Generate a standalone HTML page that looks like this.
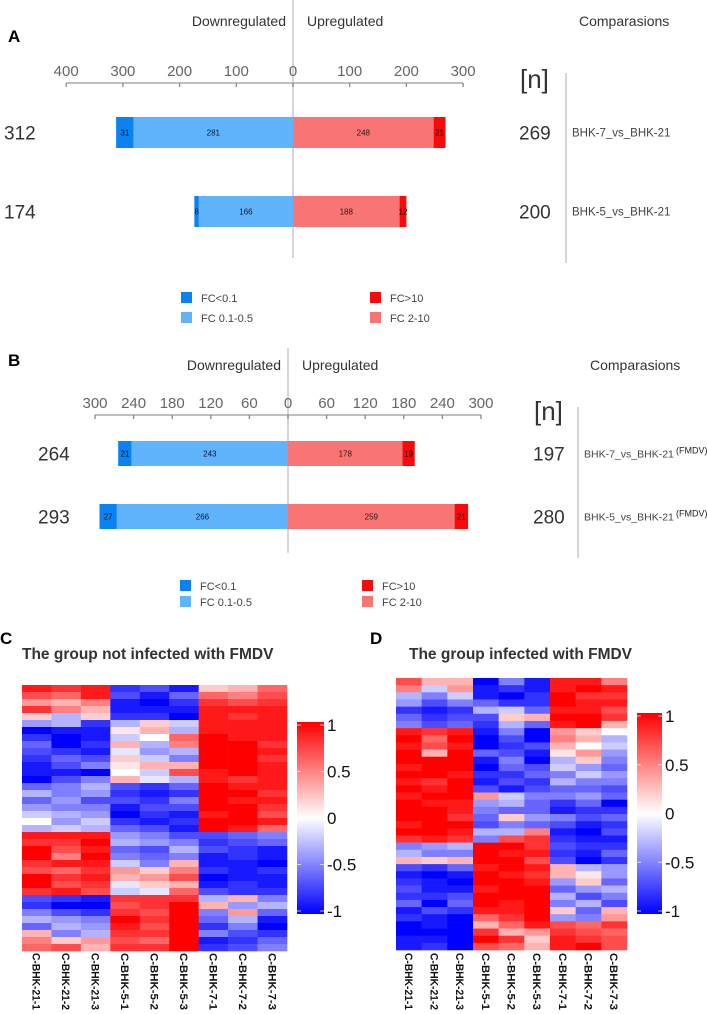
<!DOCTYPE html>
<html><head><meta charset="utf-8"><style>
html,body{margin:0;padding:0;background:#fff;}
svg{display:block;font-family:"Liberation Sans",sans-serif;}
</style></head><body>
<svg id="fig" width="707" height="1014" viewBox="0 0 707 1014" xmlns="http://www.w3.org/2000/svg">
<rect width="707" height="1014" fill="#fff"/>
<g id="panelA"></g>
<g id="panelB"></g>
<g id="panelC"></g>
<g id="panelD"></g>
</svg>
<script>
// ---- Panel A data ----
const aComparisons = ["BHK-7_vs_BHK-21","BHK-5_vs_BHK-21"];
const aDownStrong = [31, 8];
const aDownWeak = [281, 166];
const aUpWeak = [248, 188];
const aUpStrong = [21, 12];
const aTicks = [-400,-300,-200,-100,0,100,200,300];
// ---- Panel B data ----
const bComparisons = ["BHK-7_vs_BHK-21","BHK-5_vs_BHK-21"];
const bDownStrong = [21, 27];
const bDownWeak = [243, 266];
const bUpWeak = [178, 259];
const bUpStrong = [19, 21];
const bTicks = [-300,-240,-180,-120,-60,0,60,120,180,240,300];
// ---- Heatmap data ----
const samples = ["C-BHK-21-1","C-BHK-21-2","C-BHK-21-3","C-BHK-5-1","C-BHK-5-2","C-BHK-5-3","C-BHK-7-1","C-BHK-7-2","C-BHK-7-3"];
const cbTicks = [1,0.5,0,-0.5,-1];
const heatC = [
[0.9,0.8,0.9,-0.8,-0.7,-0.9,0.2,0.3,0.6],
[0.7,0.6,0.9,-0.7,-0.9,-0.6,0.6,0.5,0.7],
[0.4,0.3,0.5,-0.9,-1,-0.8,0.8,0.7,0.8],
[0.8,0.5,0.3,-0.9,-0.9,-0.9,0.9,0.9,0.9],
[0.2,-0.3,0.2,-0.8,-0.8,-1,0.9,0.8,0.9],
[-0.4,-0.3,-0.8,-0.3,0.2,-0.2,0.9,0.9,0.9],
[-1,-0.9,-0.9,0.1,0.3,-0.3,0.9,0.9,0.9],
[-0.8,-1,-0.9,-0.2,0.0,0.6,1,0.9,0.9],
[-0.6,-1,-0.8,0.3,-0.3,0.5,1,1,0.8],
[-0.7,-0.8,-0.9,-0.1,-0.4,-0.3,1,1,0.9],
[-0.8,-0.6,-0.7,0.2,-0.2,-0.5,1,1,0.8],
[-0.9,-0.7,-0.5,0.1,0.3,0.3,1,1,0.9],
[-0.9,-0.9,-1,0.0,-0.2,0.7,0.9,1,0.9],
[-1,-0.7,-0.5,0.3,-0.1,-0.3,0.9,0.8,0.9],
[-0.6,-0.5,-0.3,-0.7,-0.8,-0.6,1,0.9,0.9],
[-0.3,-0.5,-0.4,-0.8,-0.9,-0.8,1,1,0.8],
[-0.6,-0.4,-0.7,-0.7,-0.8,-0.5,1,0.9,0.9],
[-0.4,-0.5,-0.5,-0.9,-0.7,-0.7,1,1,0.8],
[-0.2,-0.3,-0.4,-1,-0.8,-0.9,0.9,1,0.7],
[0.0,-0.4,-0.2,-0.8,-0.9,-0.8,1,1,0.9],
[-0.3,-0.2,-0.3,-0.6,-0.7,-0.9,1,0.9,0.6],
[0.9,0.9,0.9,-0.4,-0.5,-0.7,-0.7,-0.6,-0.5],
[0.8,0.8,1,-0.3,-0.4,-0.5,-0.8,-0.7,-0.6],
[1,0.7,0.9,-0.6,-0.7,-0.3,-0.7,-0.8,-0.9],
[1,0.5,1,-0.5,-0.6,-0.5,-0.9,-0.8,-0.9],
[0.8,0.9,0.9,-0.2,-0.5,0.3,-0.9,-0.9,-1],
[0.7,0.6,0.8,0.4,0.2,0.5,-0.8,-0.9,-0.8],
[1,0.8,0.9,0.3,0.4,0.7,-1,-0.9,-0.9],
[1,0.7,0.8,-0.1,0.2,0.3,-0.9,-0.8,-0.9],
[0.8,0.9,0.7,-0.2,-0.1,0.6,-0.7,-0.8,-0.8],
[-0.7,-0.8,-0.9,0.8,0.8,0.8,-0.3,0.3,-0.5],
[-0.8,-1,-1,0.7,0.8,1,0.3,-0.4,-0.3],
[-0.5,-0.7,-0.8,0.8,0.7,1,-0.5,0.4,-0.6],
[-0.3,-0.4,-0.5,1,0.8,1,-0.6,-0.3,-0.9],
[-0.6,-0.3,-0.4,0.9,0.7,1,-0.8,-0.5,-1],
[0.3,-0.5,-0.3,0.8,0.8,1,-0.5,-0.7,-0.8],
[0.5,0.2,0.4,0.7,0.6,1,-0.9,-0.8,-0.6],
[0.6,0.7,0.3,0.8,0.8,1,-0.8,-0.7,-0.5]
];
const heatD = [
[0.7,0.3,0.3,-1,-0.5,-0.9,0.9,0.9,0.5],
[0.5,-0.2,0.4,-0.9,-0.8,-0.9,0.9,1,0.9],
[-0.3,-0.5,-0.2,-0.9,-1,-0.8,1,0.8,0.8],
[-0.4,-0.7,-0.5,-0.6,-0.8,-0.8,1,0.9,0.9],
[-0.8,-0.9,-0.8,-0.3,-0.2,-0.6,0.9,0.9,0.7],
[-0.6,-0.8,-0.7,-0.7,0.2,0.3,1,1,0.8],
[-0.5,-0.7,-0.6,-0.8,-0.3,-0.6,0.9,1,0.3],
[0.9,0.8,0.9,-0.9,-0.5,-1,0.4,0.2,0.0],
[1,0.6,1,-1,-0.7,-1,0.5,0.3,-0.3],
[0.9,0.7,0.9,-1,-0.8,-0.7,0.3,0.0,-0.2],
[1,0.3,1,-0.6,-0.7,-0.9,0.1,0.4,-0.4],
[1,1,1,-0.9,-0.5,-1,-0.3,0.2,-0.5],
[0.9,1,1,-1,-0.6,-0.7,-0.2,-0.4,-0.6],
[1,1,0.9,-0.8,-0.8,-0.6,-0.5,-0.2,-0.4],
[0.9,0.8,1,-0.9,-0.7,-0.8,-0.3,-0.5,-0.5],
[1,0.9,1,-0.7,-0.9,-0.7,-0.6,-0.6,-0.7],
[0.9,1,1,0.4,-0.2,-0.5,-0.5,-0.4,-0.6],
[1,0.9,0.9,-0.4,-0.3,-0.6,-0.8,-0.6,-1],
[1,1,0.9,-0.5,-0.6,-0.6,-0.9,-0.8,-0.8],
[1,1,0.8,-0.6,0.2,-0.4,-0.5,-0.7,-0.6],
[0.9,1,1,-0.7,-0.5,-0.6,-0.7,-0.9,-0.8],
[1,1,0.9,-0.3,-0.3,0.5,-0.9,-1,-0.7],
[0.8,0.9,0.8,-0.5,0.7,0.8,-0.8,-0.9,-0.9],
[-0.5,-0.4,-0.3,1,1,0.8,-0.7,-0.8,-0.8],
[-0.3,-0.5,-0.5,1,0.9,0.9,-0.8,-0.9,-0.6],
[0.3,0.2,0.3,1,1,0.7,-0.7,-1,-0.8],
[-0.7,-0.8,-0.6,0.9,1,0.9,0.3,-0.3,-0.4],
[-0.9,-1,-0.9,1,0.9,0.8,0.3,0.1,-0.4],
[-0.8,-0.9,-1,1,1,0.9,-0.4,0.2,-0.6],
[-0.7,-0.9,-0.9,0.9,1,1,-0.6,-0.4,-0.3],
[-0.8,-0.8,-0.7,1,1,1,-0.3,-0.7,-0.5],
[-0.6,-1,-0.6,1,0.9,1,-0.5,-0.3,-0.7],
[-0.9,-0.7,-0.8,0.9,0.9,1,0.2,-0.6,0.3],
[-0.8,-0.9,-1,0.6,0.8,1,-0.4,-0.5,0.4],
[-1,-0.9,-1,0.3,0.6,0.9,0.7,0.6,0.8],
[-1,-1,-1,0.8,0.3,0.4,0.8,0.7,0.6],
[-0.9,-0.9,-1,1,0.8,0.2,0.9,0.8,0.7],
[-0.9,-0.8,-1,0.7,0.6,0.3,0.9,1,0.7]
];

const NS = "http://www.w3.org/2000/svg";
const COL = {ds:"#0b82f2", dw:"#5fb4fc", uw:"#f97575", us:"#f80a0a"};
function mk(parent, tag, attrs, text){
  const e = document.createElementNS(NS, tag);
  for (const k in attrs) e.setAttribute(k, attrs[k]);
  if (text !== undefined) e.textContent = text;
  parent.appendChild(e);
  return e;
}

function barPanel(g, cfg){
  const sx = v => cfg.x0 + v*cfg.k;
  let t = mk(g,"text",{x:cfg.x0-7,y:cfg.hy,"font-size":14,"text-anchor":"end",fill:"#333"},"Downregulated");
  
  
  t = mk(g,"text",{x:cfg.x0+14,y:cfg.hy,"font-size":14,fill:"#333"},"Upregulated");
  
  
  t = mk(g,"text",{x:cfg.cx,y:cfg.hy,"font-size":14,fill:"#333"},"Comparasions");
  
  
  t = mk(g,"text",{x:cfg.lx,y:cfg.ly,"font-size":17,"font-weight":"bold",fill:"#000"},cfg.letter);
  
  
  let l = mk(g,"line",{x1:cfg.x0,x2:cfg.x0,y1:cfg.cl0,y2:cfg.cl1,stroke:"#c8c8c8","stroke-width":1.5});
  
  
  const tk = cfg.ticks;
  l = mk(g,"line",{x1:sx(tk[0]),x2:sx(tk[tk.length-1]),y1:cfg.ay,y2:cfg.ay,stroke:"#aaa","stroke-width":1.5});
  
  
  tk.forEach(v=>{
    const m = mk(g,"line",{x1:sx(v),x2:sx(v),y1:cfg.ay,y2:cfg.ay+4,stroke:"#888","stroke-width":1.3});
    
    
    const tl = mk(g,"text",{x:sx(v),y:cfg.ay-7,"font-size":15,"text-anchor":"middle",fill:"#666"},String(Math.abs(v)));
    
    
  });
  t = mk(g,"text",{x:cfg.nx,y:cfg.ny,"font-size":26,fill:"#333"},"[n]");
  
  
  l = mk(g,"line",{x1:cfg.vx,x2:cfg.vx,y1:cfg.v0,y2:cfg.v1,stroke:"#c8c8c8","stroke-width":1.5});
  
  
  cfg.names.forEach((nm,i)=>{
    const y0 = cfg.rowY[i], h = cfg.bh, mid = y0+h/2;
    const ds = cfg.ds[i], dw = cfg.dw[i], uw = cfg.uw[i], us = cfg.us[i];
    const segs = [
      ["down-strong-bar", -(dw+ds), -dw, COL.ds, ds, "#111"],
      ["down-weak-bar", -dw, 0, COL.dw, dw, "#113"],
      ["up-weak-bar", 0, uw, COL.uw, uw, "#311"],
      ["up-strong-bar", uw, uw+us, COL.us, us, "#200"]
    ];
    segs.forEach(s=>{
      const r = mk(g,"rect",{x:sx(s[1]),y:y0,width:sx(s[2])-sx(s[1]),height:h,fill:s[3]});
      
      
      const tx = mk(g,"text",{x:(sx(s[1])+sx(s[2]))/2,y:mid+3,"font-size":8,"text-anchor":"middle",fill:s[5]},String(s[4]));
      
      
    });
    const tot = mk(g,"text",{x:cfg.tlx,y:mid+7,"font-size":19,fill:"#333"},String(ds+dw));
    
    
    const tu = mk(g,"text",{x:cfg.nx-1,y:mid+7,"font-size":19,fill:"#333"},String(uw+us));
    
    
    const cn = mk(g,"text",{x:cfg.vx+6,y:mid+4,"font-size":cfg.cfs,fill:"#444"},nm);
    
    
    if (cfg.sup){
      const sp = mk(g,"text",{x:cfg.vx+6+cfg.supdx,y:mid,"font-size":9,fill:"#222"},"(FMDV)");
      
      
    }
  });
  const lg = [["FC<0.1",COL.ds,0,0],["FC 0.1-0.5",COL.dw,0,1],["FC>10",COL.us,1,0],["FC 2-10",COL.uw,1,1]];
  lg.forEach(e=>{
    const x = e[2] ? cfg.lgx2 : cfg.lgx1, y = cfg.lgy + e[3]*cfg.lgdy;
    const sq = mk(g,"rect",{x:x,y:y,width:11,height:11,fill:e[1]});
    
    
    const lt = mk(g,"text",{x:x+20,y:y+10,"font-size":11,fill:"#444"},e[0]);
    
    
  });
}

barPanel(document.getElementById("panelA"),{
  letter:"A",lx:8,ly:42,x0:293,k:0.567,hy:26,cx:579,cl0:0,cl1:258,ay:83,ticks:aTicks,
  nx:520,ny:88,vx:566,v0:73,v1:263,names:aComparisons,rowY:[117,196],bh:31,
  ds:aDownStrong,dw:aDownWeak,uw:aUpWeak,us:aUpStrong,tlx:4,cfs:11.5,sup:false,
  lgx1:181,lgx2:370,lgy:292,lgdy:20
});
barPanel(document.getElementById("panelB"),{
  letter:"B",lx:8,ly:366,x0:288,k:0.6433,hy:370,cx:590,cl0:348,cl1:553,ay:415,ticks:bTicks,
  nx:534,ny:420,vx:578,v0:407,v1:558,names:bComparisons,rowY:[441,504],bh:25,
  ds:bDownStrong,dw:bDownWeak,uw:bUpWeak,us:bUpStrong,tlx:38,cfs:10.5,sup:true,supdx:92,
  lgx1:180,lgx2:362,lgy:580,lgdy:16
});

function colorOf(v){
  v = Math.max(-1, Math.min(1, v));
  if (v >= 0){ const c = Math.round(255*(1-v)); return `rgb(255,${c},${c})`; }
  const c = Math.round(255*(1+v)); return `rgb(${c},${c},255)`;
}
function heatPanel(g, cfg){
  let t = mk(g,"text",{x:cfg.lx,y:cfg.ly,"font-size":17,"font-weight":"bold",fill:"#000"},cfg.letter);
  
  
  t = mk(g,"text",{x:cfg.tx,y:659,"font-size":15.5,"font-weight":"bold",fill:"#333"},cfg.title);
  
  
  const data = cfg.data, nr = data.length, nc = samples.length;
  const cw = (cfg.x1-cfg.x0)/nc, rh = (cfg.y1-cfg.y0)/nr;
  data.forEach((row,ri)=>{
    row.forEach((v,ci)=>{
      const r = mk(g,"rect",{x:cfg.x0+ci*cw,y:cfg.y0+ri*rh,width:cw+0.3,height:rh+0.3,fill:colorOf(v)});
      
      
    });
  });
  samples.forEach((s,ci)=>{
    const x = cfg.x0+(ci+0.5)*cw - 4;
    const lb = mk(g,"text",{x:x,y:953,"font-size":11,"font-weight":"bold",fill:"#111",textLength:57,lengthAdjust:"spacingAndGlyphs",transform:`rotate(90 ${x} 953)`},s);
    
    
  });
  const gid = "grad"+cfg.letter;
  const defs = mk(g,"defs",{});
  const lgd = mk(defs,"linearGradient",{id:gid,x1:0,y1:0,x2:0,y2:1});
  mk(lgd,"stop",{offset:"0%","stop-color":"#ff0000"});
  mk(lgd,"stop",{offset:"50%","stop-color":"#ffffff"});
  mk(lgd,"stop",{offset:"100%","stop-color":"#0000ff"});
  const cb = mk(g,"rect",{x:cfg.cbx,y:cfg.cby0,width:cfg.cbw,height:cfg.cby1-cfg.cby0,fill:`url(#${gid})`});
  
  
  const sy = v => cfg.cby0+3 + (1-v)/2*(cfg.cby1-cfg.cby0-6);
  cbTicks.forEach(v=>{
    const y = sy(v);
    mk(g,"line",{x1:cfg.cbx,x2:cfg.cbx+4,y1:y,y2:y,stroke:"#fff","stroke-width":1,opacity:0.7});
    mk(g,"line",{x1:cfg.cbx+cfg.cbw-4,x2:cfg.cbx+cfg.cbw,y1:y,y2:y,stroke:"#fff","stroke-width":1,opacity:0.7});
    const tl = mk(g,"text",{x:cfg.cbx+cfg.cbw+3,y:y+6,"font-size":17,fill:"#111"},String(v));
    
    
  });
}
heatPanel(document.getElementById("panelC"),{
  letter:"C",lx:0,ly:644,tx:22,title:"The group not infected with FMDV",data:heatC,
  x0:22,x1:287,y0:685,y1:951,cbx:297,cbw:27,cby0:722,cby1:914
});
heatPanel(document.getElementById("panelD"),{
  letter:"D",lx:370,ly:644,tx:409,title:"The group infected with FMDV",data:heatD,
  x0:396,x1:627,y0:678,y1:950,cbx:637,cbw:25,cby0:713,cby1:914
});
</script>
</body></html>
